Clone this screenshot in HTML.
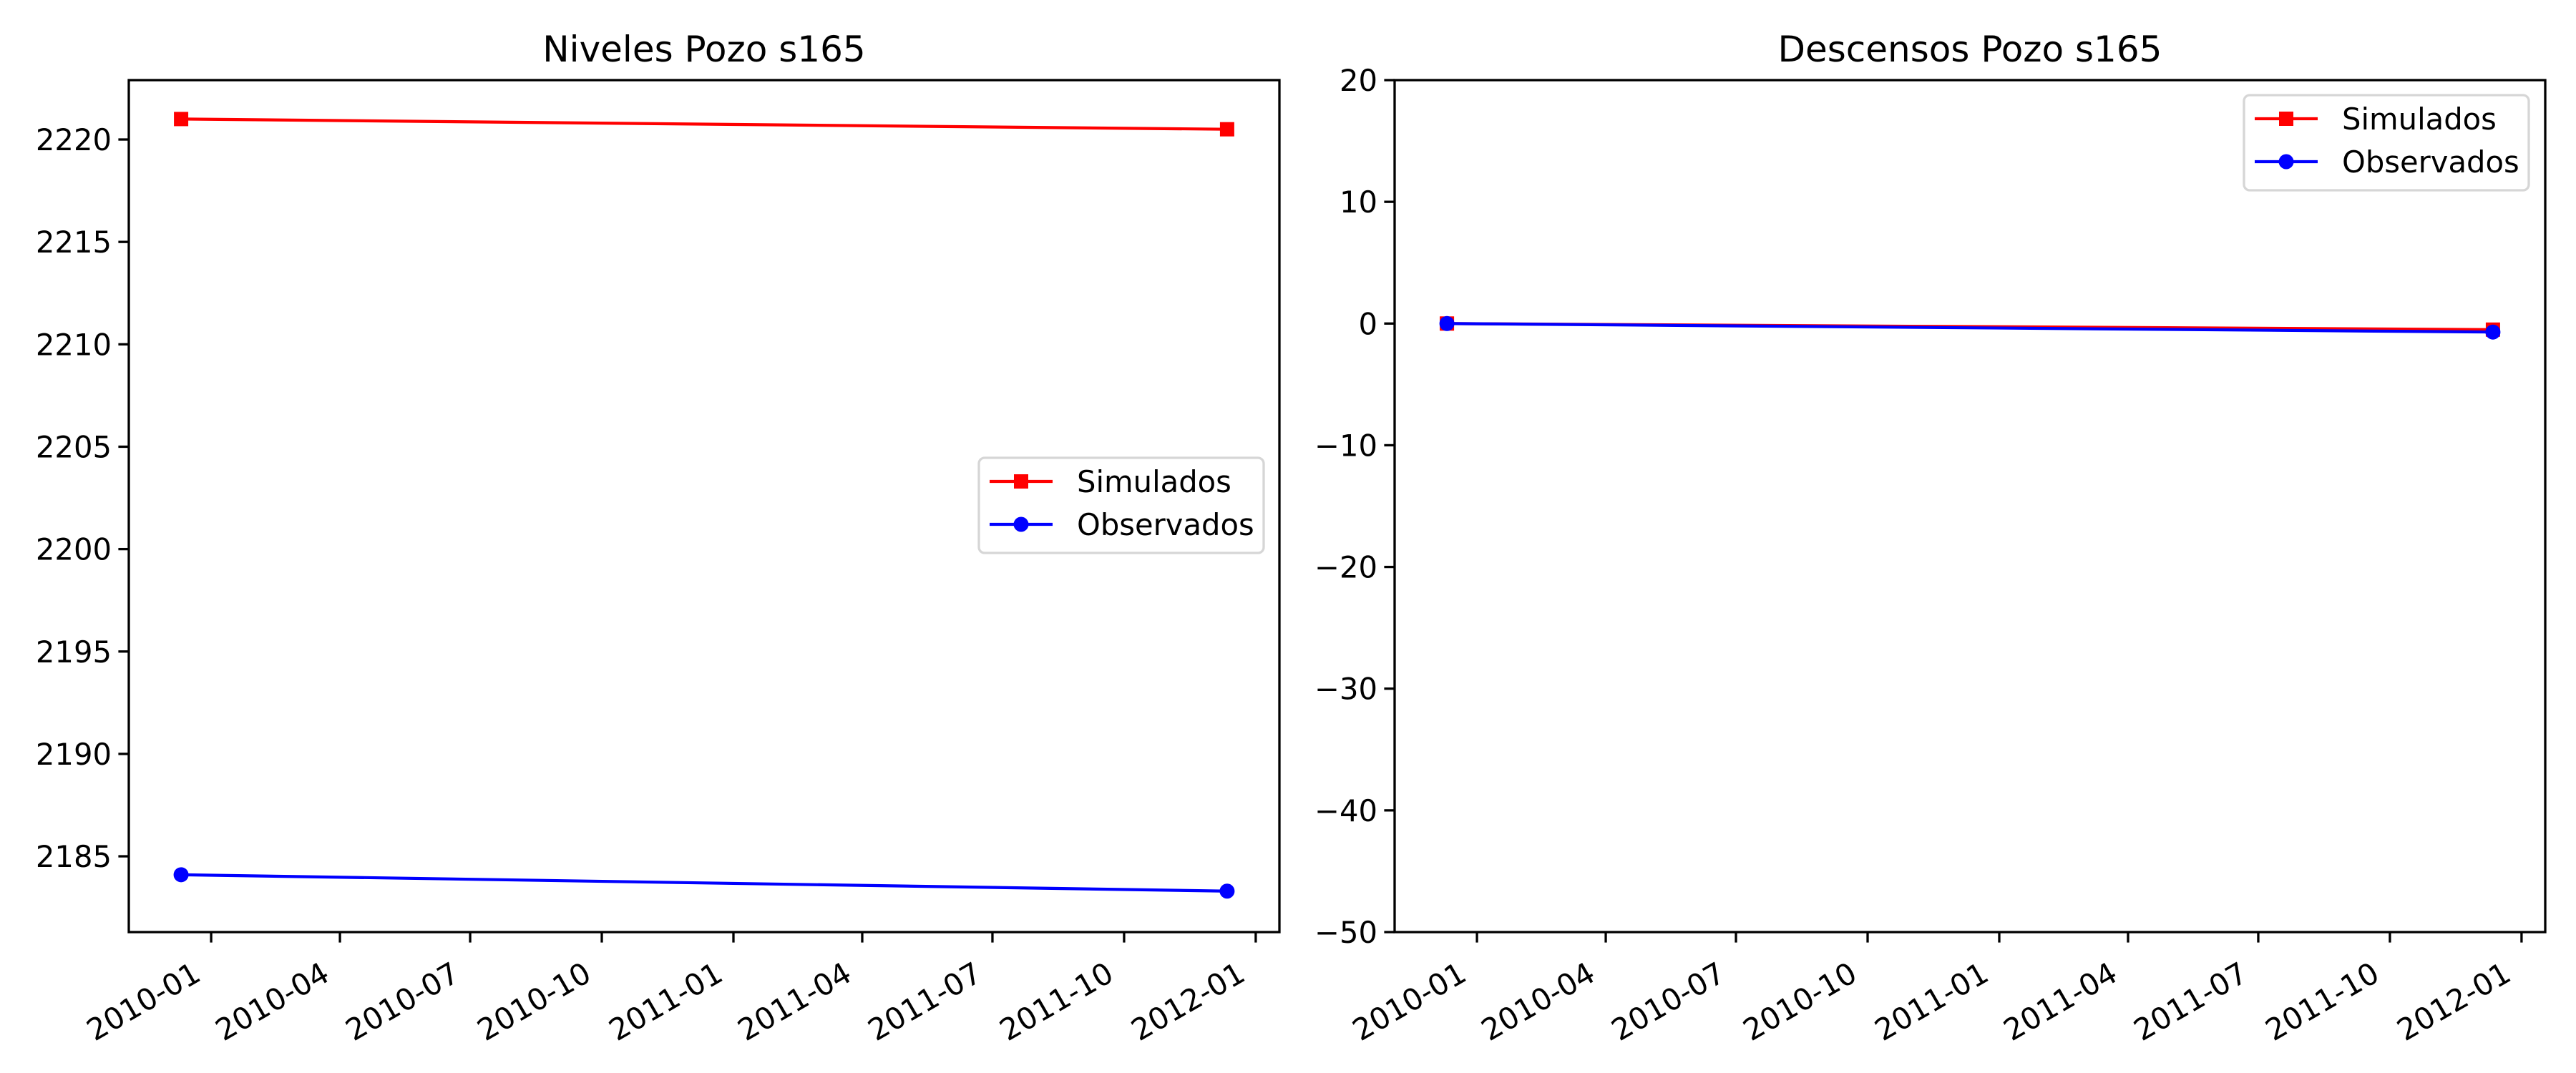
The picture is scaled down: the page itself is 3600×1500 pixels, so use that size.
<!DOCTYPE html>
<html><head><meta charset="utf-8"><style>
html,body{margin:0;padding:0;background:#fff;}
svg{display:block;font-family:"DejaVu Sans","Liberation Sans",sans-serif;}
</style></head><body>
<svg id="fig" width="3600" height="1500" viewBox="0 0 3600 1500" xmlns="http://www.w3.org/2000/svg"></svg>
<script>
// ---- data ----
const dates = ["2009-12-11", "2011-12-12"];
const nivelesSim = [2221.0, 2220.5];
const nivelesObs = [2184.1, 2183.3];
const descensosSim = [0.0, -0.5];
const descensosObs = [0.0, -0.7];
const xTickLabels = ["2010-01","2010-04","2010-07","2010-10","2011-01","2011-04","2011-07","2011-10","2012-01"];
const leftYTicks = [2185, 2190, 2195, 2200, 2205, 2210, 2215, 2220];
const rightYTicks = [-50, -40, -30, -20, -10, 0, 10, 20];

const NS = "http://www.w3.org/2000/svg";
const svg = document.getElementById('fig');
function mk(tag, attrs, parent, text) {
  const e = document.createElementNS(NS, tag);
  for (const k in attrs) e.setAttribute(k, attrs[k]);
  if (text !== undefined) e.textContent = text;
  (parent || svg).appendChild(e);
  return e;
}
function dayNum(s) {
  return (Date.parse(s + "T00:00:00Z") - Date.parse("2010-01-01T00:00:00Z")) / 86400000;
}

function drawPanel(opt) {
  const g = mk('g', {});
  
  
  const L = opt.left, T = 112, W = 1608, B = 1303;
  const dnums = dates.map(dayNum);
  const span = dnums[dnums.length - 1] - dnums[0];
  const x0 = dnums[0] - 0.05 * span, x1 = dnums[dnums.length - 1] + 0.05 * span;
  const xs = d => L + (d - x0) / (x1 - x0) * W;
  const ys = v => B - (v - opt.ymin) / (opt.ymax - opt.ymin) * (B - T);

  const t = mk('text', {x: L + W / 2, y: 86, 'text-anchor': 'middle', 'font-size': 50, fill: '#000'}, g, opt.title);
  
  

  function series(vals, color, marker, nm) {
    const sg = mk('g', {}, g);
    
    
    const pts = vals.map((v, i) => xs(dnums[i]) + ',' + ys(v)).join(' ');
    mk('polyline', {points: pts, fill: 'none', stroke: color, 'stroke-width': 4.2}, sg);
    vals.forEach((v, i) => {
      const cx = xs(dnums[i]), cy = ys(v);
      let m;
      if (marker === 's') m = mk('rect', {x: cx - 10, y: cy - 10, width: 20, height: 20, fill: color}, sg);
      else m = mk('circle', {cx: cx, cy: cy, r: 10.5, fill: color}, sg);
      
      
    });
  }
  series(opt.sim, '#ff0000', 's', 'simulados-line');
  series(opt.obs, '#0000ff', 'o', 'observados-line');

  const fr = mk('rect', {x: L, y: T, width: W, height: B - T, fill: 'none', stroke: '#000', 'stroke-width': 3.3}, g);
  
  

  opt.yticks.forEach(v => {
    const y = ys(v);
    mk('line', {x1: L - 14.6, y1: y, x2: L, y2: y, stroke: '#000', 'stroke-width': 3.3}, g);
    const lb = mk('text', {x: L - 24, y: y + 15, 'text-anchor': 'end', 'font-size': 41.7, fill: '#000'}, g, v < 0 ? '\u2212' + Math.abs(v) : String(v));
    
    
  });
  xTickLabels.forEach(s => {
    const x = xs(dayNum(s + "-01"));
    mk('line', {x1: x, y1: B, x2: x, y2: B + 14.6, stroke: '#000', 'stroke-width': 3.3}, g);
    const ax = x - 12, ay = B + 66;
    const lb = mk('text', {x: ax, y: ay, 'text-anchor': 'end', 'font-size': 41.7, fill: '#000',
      transform: 'rotate(-30 ' + ax + ' ' + ay + ')'}, g, s);
    
    
  });

  const lg = mk('g', {}, g);
  
  
  const lx = opt.legX, ly = opt.legY;
  mk('rect', {x: lx, y: ly, width: 398, height: 133, rx: 8, fill: '#fff', 'fill-opacity': 0.8, stroke: '#d6d6d6', 'stroke-width': 3.3}, lg);
  const rows = [['Simulados', '#ff0000', 's', 33], ['Observados', '#0000ff', 'o', 93]];
  rows.forEach(r => {
    const e = mk('g', {}, lg);
    
    
    const cy = ly + r[3];
    mk('line', {x1: lx + 15, y1: cy, x2: lx + 103, y2: cy, stroke: r[1], 'stroke-width': 4.2}, e);
    if (r[2] === 's') mk('rect', {x: lx + 49, y: cy - 10, width: 20, height: 20, fill: r[1]}, e);
    else mk('circle', {cx: lx + 59, cy: cy, r: 10.5, fill: r[1]}, e);
    mk('text', {x: lx + 137, y: cy + 15, 'font-size': 41.7, fill: '#000'}, e, r[0]);
  });
}

drawPanel({name: 'niveles-chart', title: 'Niveles Pozo s165', left: 180, ymin: 2181.3, ymax: 2222.9,
  sim: nivelesSim, obs: nivelesObs, yticks: leftYTicks, legX: 1368, legY: 640});
drawPanel({name: 'descensos-chart', title: 'Descensos Pozo s165', left: 1949, ymin: -50, ymax: 20,
  sim: descensosSim, obs: descensosObs, yticks: rightYTicks, legX: 3136, legY: 133});
</script>
</body></html>
